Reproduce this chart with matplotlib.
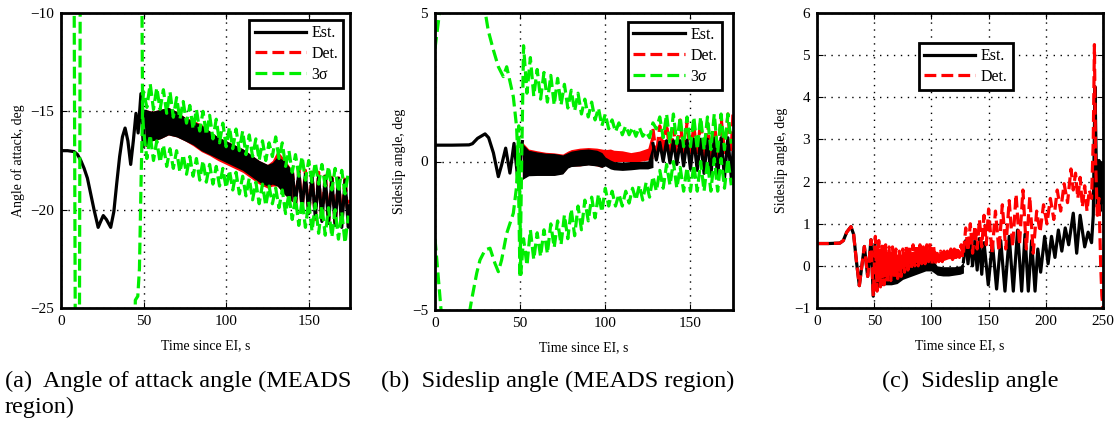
import numpy as np
import matplotlib
matplotlib.use('Agg')
import matplotlib.pyplot as plt

plt.rcParams['font.family'] = ['Liberation Serif', 'DejaVu Serif']

# ---------------- data: panel (a) angle of attack ----------------
a_smooth_t = [0, 4, 8, 10, 12, 14, 16, 18, 20, 22.5, 24, 25.6, 27.5, 30.1, 32, 33.7,
              35.5, 37.2, 38.8, 40.5, 42.2, 43.8, 45.4, 46.7, 48.4, 49.8, 51]
a_smooth_v = [-17.0, -17.0, -17.05, -17.2, -17.5, -17.9, -18.4, -19.2, -20.0, -20.9, -20.6,
              -20.3, -20.5, -20.9, -20.1, -18.7, -17.3, -16.3, -15.85, -16.5, -17.7, -16.5,
              -15.1, -16.1, -14.1, -16.8, -15.0]
a_band_t = [51, 55, 60, 65, 70, 75, 80, 85, 90, 95, 100, 105, 110, 115, 120, 125, 128, 131, 135, 140]
a_est_hi = [-14.9, -15.0, -14.9, -14.8, -15.0, -15.3, -15.5, -15.7, -16.0, -16.3, -16.5, -16.7,
            -16.9, -17.2, -17.5, -17.7, -17.6, -17.3, -17.5, -18.0]
a_est_lo = [-16.8, -16.5, -16.4, -16.2, -16.3, -16.5, -16.7, -17.0, -17.2, -17.4, -17.6, -17.8,
            -18.0, -18.3, -18.6, -18.8, -18.7, -18.8, -19.2, -19.6]
a_det_hi = [-14.9, -15.0, -14.9, -14.8, -15.0, -15.3, -15.45, -15.65, -16.0, -16.3, -16.5, -16.7,
            -16.9, -17.2, -17.5, -17.7, -17.5, -17.0, -17.4, -18.0]
a_det_lo = [-16.8, -16.5, -16.4, -16.2, -16.3, -16.5, -16.75, -17.05, -17.25, -17.5, -17.7, -17.9,
            -18.1, -18.4, -18.7, -18.9, -18.8, -18.8, -19.2, -19.6]
a_osc_t = [140, 142, 144, 146, 148, 150, 152, 154, 156, 158, 160, 162, 164, 166, 168, 170, 172, 174, 175]
a_est_osc = [-18.0, -19.7, -18.1, -19.9, -18.2, -20.2, -18.3, -20.4, -18.3, -20.6, -18.3, -20.7,
             -18.4, -20.8, -18.4, -20.9, -18.5, -20.9, -19.8]
a_det_osc = [-17.9, -19.8, -17.9, -20.0, -18.0, -20.3, -18.1, -20.5, -18.1, -20.6, -18.1, -20.7,
             -18.2, -20.8, -18.2, -20.8, -18.3, -20.8, -19.5]
a_up_pre_t = [7.8, 9.2, 43.8, 45.0, 46.5, 47.5, 48.5, 49.5]
a_up_pre_v = [-5, -40, -40, -24.6, -24.4, -23.0, -18.5, -14.5]
a_lo_pre_t = [10.8, 12.0, 48.0, 49.4]
a_lo_pre_v = [-40, 5, 5, -15.0]
a_sig_t = list(range(50, 175, 2))
a_up_zig = [-14.0, -14.8, -13.6, -14.9, -13.8, -14.9, -13.9, -15.1, -14.0, -15.3, -14.3, -15.4,
            -14.5, -15.6, -14.7, -15.9, -14.9, -16.0, -15.0, -16.2, -15.2, -16.4, -15.4, -16.6,
            -15.6, -16.8, -15.8, -16.9, -15.9, -17.0, -16.0, -17.2, -16.2, -17.3, -16.4, -17.5,
            -16.5, -17.5, -16.6, -17.3, -16.3, -17.4, -16.6, -17.8, -17.0, -18.1, -17.2, -18.3,
            -17.3, -18.5, -17.5, -18.6, -17.6, -18.7, -17.7, -18.8, -17.8, -19.0, -17.9, -19.1,
            -18.0, -19.2, -18.1]
a_lo_zig = [-16.0, -17.4, -16.2, -17.5, -16.5, -17.6, -16.7, -17.8, -16.9, -17.9, -17.0, -18.1,
            -17.2, -18.2, -17.3, -18.3, -17.4, -18.5, -17.5, -18.6, -17.7, -18.7, -17.8, -18.8,
            -17.9, -18.9, -18.0, -19.0, -18.1, -19.2, -18.3, -19.3, -18.4, -19.5, -18.6, -19.7,
            -18.7, -19.8, -18.8, -19.7, -18.9, -19.9, -19.0, -20.2, -19.2, -20.5, -19.4, -20.8,
            -19.5, -20.9, -19.6, -21.1, -19.7, -21.2, -19.8, -21.3, -19.9, -21.4, -20.0, -21.5,
            -20.1, -21.7, -20.3]

# ---------------- data: panel (b) sideslip (MEADS) ----------------
b_smooth_t = [0, 10, 20, 22, 25, 29.4, 31.5, 34.3, 37.2, 39.2, 41.5, 44.0, 46.4, 48.9, 51.3]
b_smooth_v = [0.55, 0.55, 0.56, 0.6, 0.78, 0.93, 0.8, 0.29, -0.51, -0.1, 0.45, -0.39, 0.61, -0.73, 0.67]
b_band_t = [51.3, 55, 60, 65, 70, 75, 78, 80, 85, 90, 95, 98, 100, 103, 105, 110, 115, 120, 125, 128]
b_est_hi = [0.6, 0.38, 0.32, 0.28, 0.27, 0.22, 0.3, 0.35, 0.4, 0.42, 0.38, 0.3, 0.15, 0.05, 0.0,
            -0.02, 0.0, 0.0, 0.02, 0.6]
b_est_lo = [-0.6, -0.48, -0.47, -0.47, -0.47, -0.42, -0.22, -0.17, -0.15, -0.12, -0.15, -0.2, -0.15,
            -0.25, -0.28, -0.3, -0.28, -0.25, -0.25, -0.2]
b_det_hi = [0.65, 0.42, 0.36, 0.31, 0.29, 0.25, 0.35, 0.4, 0.45, 0.47, 0.45, 0.42, 0.4, 0.42, 0.38,
            0.36, 0.3, 0.35, 0.45, 1.1]
b_det_lo = [-0.6, -0.45, -0.45, -0.45, -0.45, -0.4, -0.2, -0.15, -0.15, -0.1, -0.15, -0.2, 0.0,
            0.0, 0.0, 0.0, 0.0, 0.0, 0.05, 0.1]
b_osc_t = [128, 130, 132, 134, 136, 138, 140, 142, 144, 146, 148, 150, 152, 154, 156, 158, 160,
           162, 164, 166, 168, 170, 172, 174, 175]
b_est_osc = [0.6, 0.05, 0.65, 0.0, 0.7, -0.05, 0.7, -0.1, 0.7, -0.15, 0.72, -0.25, 0.75, -0.3,
             0.75, -0.4, 0.75, -0.45, 0.78, -0.5, 0.8, -0.55, 0.8, -0.55, 0.3]
b_det_osc = [1.1, 0.2, 1.2, 0.3, 1.3, 0.2, 1.1, 0.3, 1.4, 0.2, 1.3, 0.3, 1.2, 0.2, 1.4, 0.1, 1.3,
             0.2, 1.4, 0.1, 1.5, 0.3, 1.6, 0.4, 1.65]
b_up_pre_t = [0, 3.5, 29.0, 31.3, 34.3, 37.2, 40.1, 42.1, 46.0, 47.9, 48.9, 49.9, 50.9]
b_up_pre_v = [3.8, 5.4, 5.2, 4.4, 3.75, 3.19, 2.86, 3.19, 2.18, 1.17, -0.17, -3.9, 0.0]
b_lo_pre_t = [0, 4.0, 19.0, 21.5, 24.5, 26.4, 29.4, 32.3, 35.2, 37.2, 39.1, 42.1, 46.0, 47.9, 49.2, 50.4]
b_lo_pre_v = [-2.6, -5.3, -5.5, -4.66, -3.76, -3.32, -2.98, -2.92, -3.43, -3.71, -3.32, -2.42,
              -1.74, -0.85, 1.2, -3.8]
b_sig_t = list(range(52, 175, 2))
b_up_zig = [3.9, 2.3, 3.5, 2.2, 3.1, 2.1, 3.0, 2.0, 2.9, 1.9, 2.8, 1.9, 2.6, 1.8, 2.4, 1.7, 2.3,
            1.6, 2.1, 1.5, 2.0, 1.4, 1.8, 1.2, 1.6, 1.1, 1.4, 1.0, 1.3, 0.9, 1.2, 0.9, 1.15, 0.85,
            1.15, 0.85, 1.0, 0.8, 1.3, 1.1, 1.5, 0.8, 1.6, 0.6, 1.6, 0.6, 1.5, 0.5, 1.5, 0.5, 1.5,
            0.4, 1.5, 0.4, 1.5, 0.4, 1.6, 0.3, 1.6, 0.4, 1.6, 0.6]
b_lo_zig = [-2.6, -3.5, -2.3, -3.3, -2.4, -3.2, -2.3, -3.1, -2.1, -2.9, -2.0, -2.8, -1.8, -2.6,
            -1.6, -2.5, -1.5, -2.3, -1.3, -2.0, -1.2, -1.9, -1.1, -1.7, -0.9, -1.5, -1.0, -1.5,
            -1.1, -1.5, -1.0, -1.4, -0.9, -1.3, -0.8, -1.3, -0.7, -1.2, -0.5, -1.0, -0.3, -0.9,
            -0.1, -0.8, 0.0, -0.9, -0.2, -1.0, -0.2, -1.0, -0.1, -1.0, 0.0, -1.0, 0.0, -1.0, 0.1,
            -1.0, 0.1, -0.9, 0.1, -0.8]

# ---------------- data: panel (c) sideslip (full) ----------------
c_smooth_t = [0, 10, 20, 23, 26, 29.7, 32, 34.5, 37.0, 39.2, 41.4, 44.3, 47.2, 49.2, 50.7]
c_smooth_v = [0.53, 0.53, 0.54, 0.6, 0.8, 0.93, 0.75, 0.1, -0.47, 0.0, 0.46, -0.25, 0.62, -0.72, 0.5]
c_band_t = [50.7, 55, 60, 65, 70, 75, 80, 85, 90, 95, 100, 105, 110, 115, 120, 125, 128]
c_est_hi = [0.4, 0.2, 0.1, 0.05, 0.05, 0.05, 0.1, 0.15, 0.15, 0.2, 0.2, 0.0, -0.02, -0.02, -0.02, 0.0, 0.1]
c_est_lo = [-0.6, -0.47, -0.45, -0.45, -0.42, -0.32, -0.27, -0.22, -0.17, -0.12, -0.12, -0.22, -0.24,
            -0.24, -0.22, -0.2, -0.17]
c_det_zig_t = [51, 52.5, 54, 55.5, 57, 58.5, 60, 61.5, 63, 64.5, 66, 67.5, 69, 70.5, 72, 73.5,
               75, 76.5, 78, 79.5, 81, 82.5, 84, 85.5, 87, 88.5, 90, 91.5, 93, 94.5, 96, 97.5,
               99, 100.5, 102, 103.5, 105, 106.5, 108, 109.5, 111, 112.5, 114, 115.5, 117, 118.5,
               120, 121.5, 123, 124.5, 126, 127.5]
c_det_zig = [0.7, -0.6, 0.6, -0.5, 0.55, -0.45, 0.5, -0.4, 0.45, -0.35, 0.45, -0.3, 0.4, -0.3,
             0.35, -0.25, 0.4, -0.15, 0.45, -0.1, 0.45, -0.05, 0.5, 0.0, 0.5, 0.0, 0.5, 0.05,
             0.45, 0.05, 0.5, 0.1, 0.55, 0.05, 0.45, 0.05, 0.35, 0.1, 0.35, 0.1, 0.35, 0.15,
             0.35, 0.15, 0.4, 0.15, 0.4, 0.2, 0.45, 0.2, 0.5, 0.25]
c_det_band_hi = [0.5, 0.4, 0.35, 0.3, 0.28, 0.28, 0.32, 0.36, 0.38, 0.38, 0.4, 0.32, 0.28, 0.28, 0.32, 0.36, 0.38]
c_det_band_lo = [-0.4, -0.3, -0.25, -0.2, -0.15, -0.05, 0.03, 0.07, 0.1, 0.12, 0.12, 0.1, 0.12, 0.17,
                 0.17, 0.22, 0.22]
c_est_osc_t = [128, 130, 132, 134, 136, 138, 140, 142, 144, 146, 149.7, 153.3, 157, 160.6, 164.3,
               168, 171.6, 175.3, 178.9, 181.8, 184.7, 187.6, 190.6, 193, 195.5, 199, 202, 205,
               208, 211, 214, 217, 220, 224, 227, 230, 234, 237, 240, 241.5, 243, 244, 245,
               246.5, 247.5, 249, 250]
c_est_osc = [0.1, 0.6, 0.05, 0.65, 0.0, 0.6, -0.1, 0.65, -0.2, 0.55, -0.45, 0.55, -0.55, 0.6,
             -0.6, 0.7, -0.6, 0.85, -0.6, 0.75, -0.6, 0.6, -0.6, 0.4, -0.15, 0.7, 0.05, 0.7, 0.2,
             0.85, 0.35, 0.9, 0.5, 1.25, 0.3, 1.2, 0.45, 0.8, 0.55, 1.2, 4.25, 2.6, 1.4, 2.5, 1.3,
             2.45, 1.5]
c_det_osc_t = [128, 130, 132, 134, 136, 138, 140, 142, 144, 146, 148, 150, 153, 156, 159, 162,
               165, 168, 171, 174, 177, 180, 183, 186, 189, 192, 195, 198, 201, 204, 207, 210,
               213, 216, 219, 222, 224, 226, 228, 230, 232, 234, 236, 238, 240, 241.5, 242.5,
               243.5, 245, 246.5, 248, 249, 250]
c_det_osc = [0.3, 0.9, 0.35, 1.0, 0.3, 0.95, 0.4, 1.1, 0.45, 1.2, 0.5, 1.35, 0.3, 1.3, 0.35, 1.45,
             0.4, 1.55, 0.45, 1.7, 0.5, 1.8, 0.4, 1.65, 0.3, 1.3, 0.8, 1.45, 1.0, 1.6, 1.1, 1.8,
             1.3, 1.95, 1.5, 2.3, 1.8, 2.2, 1.6, 2.1, 1.4, 1.9, 1.3, 1.8, 1.6, 3.0, 5.25, 2.5,
             1.2, 1.6, 0.0, -0.7, -1.0]

# ---------------- styling ----------------
BLACK = 'black'
RED = '#ff0000'
GREEN = '#00ee00'
LW = 2.3
W, H = 1117, 422

fig = plt.figure(figsize=(W / 100, H / 100), dpi=100)
ax_a = fig.add_axes([61 / W, 1 - 308 / H, 289 / W, 295 / H])
ax_b = fig.add_axes([435 / W, 1 - 310 / H, 298 / W, 297 / H])
ax_c = fig.add_axes([817 / W, 1 - 308 / H, 286 / W, 295 / H])


def style(ax, xlim, ylim, xticks, yticks, ylabel):
    ax.set_xlim(xlim)
    ax.set_ylim(ylim)
    ax.set_xticks(xticks)
    ax.set_yticks(yticks)
    ax.tick_params(direction='in', length=4, width=0.8, top=True, right=True,
                   labelsize=11, pad=5)
    for s in ax.spines.values():
        s.set_linewidth(2.0)
        s.set_zorder(5)
    ax.set_axisbelow(True)
    ax.grid(True, color='black', linestyle=(0, (1, 4)), linewidth=1.0)
    ax.set_xlabel('Time since EI, s', fontsize=10, labelpad=8)
    ax.set_ylabel(ylabel, fontsize=10, labelpad=4)


def legend(ax, handles, labels, anchor, loc):
    lg = ax.legend(handles, labels, loc=loc, bbox_to_anchor=anchor, borderaxespad=0,
                   fontsize=11.5, handlelength=3.2, handletextpad=0.35, labelspacing=0.3,
                   borderpad=0.32, fancybox=False, framealpha=1, edgecolor='black')
    lg.get_frame().set_linewidth(2.0)
    lg.set_zorder(10)
    return lg


# ---- panel (a) ----
ax = ax_a
ax.fill_between(a_band_t, a_det_lo, a_det_hi, color=RED, lw=0, zorder=2)
ax.plot(a_osc_t, a_det_osc, color=RED, lw=LW, ls='--', zorder=2)
ax.fill_between(a_band_t, a_est_lo, a_est_hi, color=BLACK, lw=0, zorder=3)
h_est, = ax.plot(a_smooth_t, a_smooth_v, color=BLACK, lw=LW, zorder=3)
ax.plot(a_osc_t, a_est_osc, color=BLACK, lw=LW, zorder=3)
h_det = plt.Line2D([], [], color=RED, lw=LW, ls='--')
h_sig, = ax.plot(a_up_pre_t + a_sig_t, a_up_pre_v + a_up_zig, color=GREEN, lw=LW, ls='--', zorder=4)
ax.plot(a_lo_pre_t + a_sig_t, a_lo_pre_v + a_lo_zig, color=GREEN, lw=LW, ls='--', zorder=4)
style(ax, (0, 175), (-25, -10), [0, 50, 100, 150], [-25, -20, -15, -10], 'Angle of attack, deg')
legend(ax, [h_est, h_det, h_sig], ['Est.', 'Det.', '3σ'], (0.976, 0.976), 'upper right')

# ---- panel (b) ----
ax = ax_b
ax.fill_between(b_band_t, b_det_lo, b_det_hi, color=RED, lw=0, zorder=2)
ax.plot(b_osc_t, b_det_osc, color=RED, lw=LW, ls='--', zorder=2)
ax.fill_between(b_band_t, b_est_lo, b_est_hi, color=BLACK, lw=0, zorder=3)
h_est, = ax.plot(b_smooth_t, b_smooth_v, color=BLACK, lw=LW, zorder=3)
ax.plot(b_osc_t, b_est_osc, color=BLACK, lw=LW, zorder=3)
h_sig, = ax.plot(b_up_pre_t + b_sig_t, b_up_pre_v + b_up_zig, color=GREEN, lw=LW, ls='--', zorder=4)
ax.plot(b_lo_pre_t + b_sig_t, b_lo_pre_v + b_lo_zig, color=GREEN, lw=LW, ls='--', zorder=4)
style(ax, (0, 175), (-5, 5), [0, 50, 100, 150], [-5, 0, 5], 'Sideslip angle, deg')
legend(ax, [h_est, h_det, h_sig], ['Est.', 'Det.', '3σ'], (0.963, 0.970), 'upper right')

# ---- panel (c) ----
ax = ax_c
ax.fill_between(c_band_t, c_est_lo, c_est_hi, color=BLACK, lw=0, zorder=2)
h_est, = ax.plot(c_smooth_t, c_smooth_v, color=BLACK, lw=LW, zorder=2)
ax.plot(c_est_osc_t, c_est_osc, color=BLACK, lw=LW, zorder=2)
ax.fill_between(c_band_t, c_det_band_lo, c_det_band_hi, color=RED, lw=0, zorder=3)
h_det, = ax.plot(c_smooth_t + c_det_zig_t + c_det_osc_t, c_smooth_v + c_det_zig + c_det_osc,
                 color=RED, lw=LW, ls='--', zorder=3)
style(ax, (0, 250), (-1, 6), [0, 50, 100, 150, 200, 250], [-1, 0, 1, 2, 3, 4, 5, 6],
      'Sideslip angle, deg')
legend(ax, [h_est, h_det], ['Est.', 'Det.'], (0.357, 0.898), 'upper left')

# ---- captions ----
CAP = 17.5
fig.text(5 / W, 1 - 381 / H, '(a)  Angle of attack angle (MEADS', fontsize=CAP, va='center', ha='left')
fig.text(5 / W, 1 - 407 / H, 'region)', fontsize=CAP, va='center', ha='left')
fig.text(381 / W, 1 - 381 / H, '(b)  Sideslip angle (MEADS region)', fontsize=CAP, va='center', ha='left')
fig.text(882 / W, 1 - 381 / H, '(c)  Sideslip angle', fontsize=CAP, va='center', ha='left')

fig.savefig('out.png', dpi=100)
